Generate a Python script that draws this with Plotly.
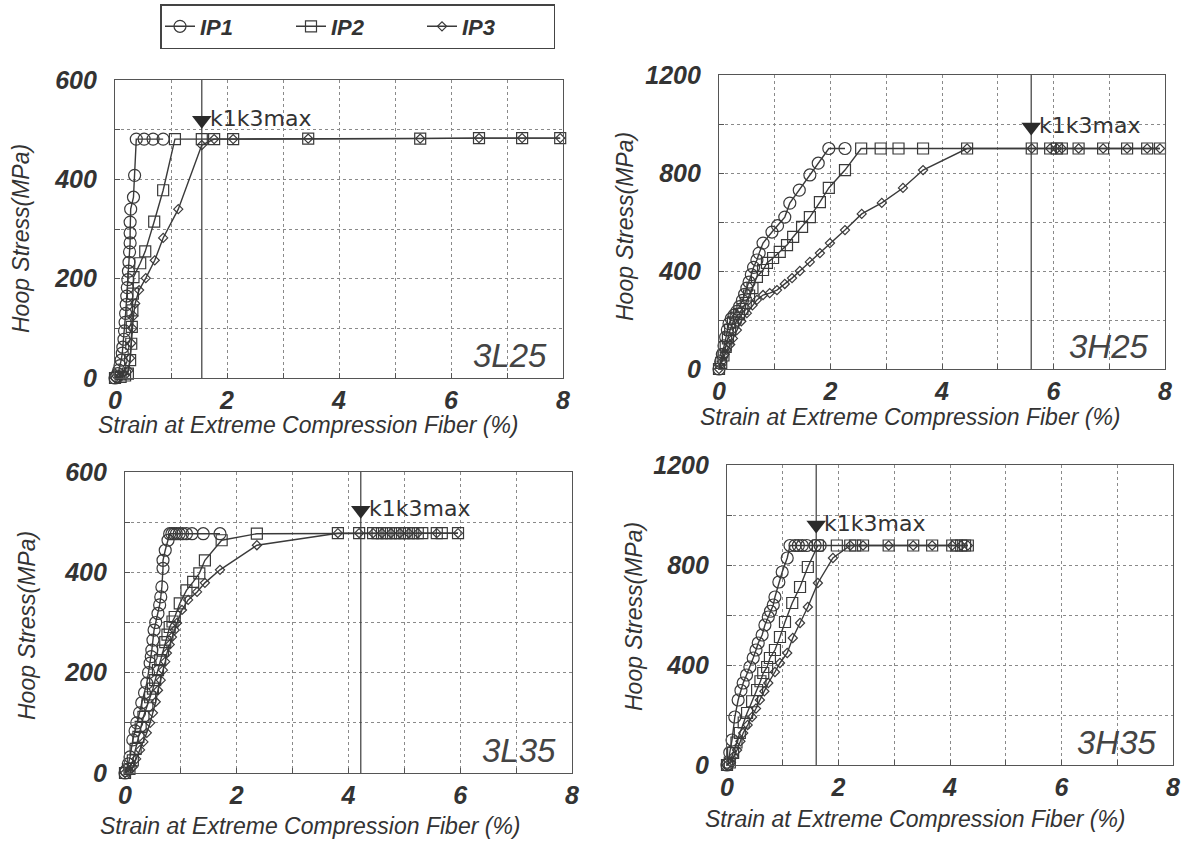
import plotly.graph_objects as go

# ---------------- data (strain %, hoop stress MPa) ----------------
L25_IP1_X = [0.00,0.03,0.05,0.07,0.09,0.11,0.13,0.14,0.16,0.17,0.18,0.19,0.20,0.21,0.22,0.23,0.24,0.25,0.26,0.27,0.27,0.27,0.28,0.33,0.35,0.38,0.52,0.68,0.86]
L25_IP1_Y = [0,4,9,16,25,36,50,62,78,95,112,130,148,165,182,198,215,233,254,272,292,314,340,364,408,481,481,481,481]
L25_IP2_X = [0.00,0.10,0.18,0.23,0.27,0.29,0.30,0.31,0.32,0.33,0.45,0.54,0.70,0.86,1.07,1.55,1.77,2.11,3.45,5.45,6.50,7.27,7.95]
L25_IP2_Y = [0,2,5,9,36,69,103,136,170,203,231,255,315,378,481,481,481,481,482,482,483,483,483]
L25_IP3_X = [0.00,0.10,0.18,0.24,0.27,0.29,0.31,0.33,0.36,0.43,0.55,0.71,0.86,1.13,1.55,1.77,2.11,3.45,5.45,6.50,7.27,7.95]
L25_IP3_Y = [0,2,6,15,40,70,100,125,150,177,201,237,282,340,469,481,481,482,482,483,483,483]

H25_IP1_X = [0.00,0.03,0.06,0.09,0.12,0.15,0.18,0.22,0.27,0.32,0.37,0.42,0.46,0.50,0.54,0.58,0.62,0.68,0.72,0.79,0.95,1.05,1.18,1.27,1.44,1.63,1.78,1.97,2.26]
H25_IP1_Y = [0,30,60,95,130,160,185,205,220,235,255,280,305,330,355,385,415,445,473,514,559,585,620,677,730,792,840,900,900]
H25_IP2_X = [0.00,0.04,0.08,0.12,0.16,0.20,0.25,0.30,0.36,0.42,0.48,0.54,0.60,0.68,0.79,0.86,0.97,1.09,1.22,1.33,1.49,1.63,1.81,1.97,2.26,2.55,2.90,3.22,3.66,4.45,5.61,5.94,6.06,6.15,6.45,6.89,7.32,7.68,7.91]
H25_IP2_Y = [0,25,55,90,125,160,190,210,225,245,270,300,330,376,404,433,453,478,506,539,580,620,681,739,812,900,900,900,900,900,900,900,900,900,900,900,900,900,900]
H25_IP3_X = [0.00,0.05,0.10,0.14,0.20,0.25,0.32,0.40,0.50,0.60,0.68,0.79,0.91,1.04,1.18,1.31,1.45,1.63,1.81,1.99,2.26,2.56,2.92,3.30,3.66,4.45,5.61,5.94,6.06,6.15,6.45,6.89,7.32,7.68,7.91]
H25_IP3_Y = [0,30,60,78,100,125,159,195,228,260,282,302,310,322,347,371,400,437,473,514,567,633,678,739,812,900,900,900,900,900,900,900,900,900,900]

L35_IP1_X = [0.00,0.02,0.06,0.09,0.14,0.18,0.21,0.26,0.30,0.35,0.39,0.42,0.45,0.47,0.48,0.50,0.52,0.55,0.59,0.62,0.64,0.66,0.68,0.68,0.72,0.77,0.80,0.84,0.88,0.92,0.97,1.03,1.10,1.20,1.40,1.70]
L35_IP1_Y = [0,5,18,32,66,84,100,120,140,160,179,200,219,232,245,265,285,300,318,335,351,371,408,424,444,464,477,477,477,477,477,477,477,477,477,477]
L35_IP2_X = [0.00,0.08,0.14,0.19,0.24,0.28,0.33,0.40,0.45,0.50,0.54,0.59,0.63,0.68,0.72,0.76,0.80,0.85,0.89,0.98,1.10,1.22,1.33,1.43,1.73,2.36,3.81,4.19,4.44,4.52,4.60,4.68,4.76,4.84,4.92,5.00,5.08,5.16,5.24,5.32,5.58,5.67,5.96]
L35_IP2_Y = [0,8,25,48,72,92,112,135,151,168,185,205,225,244,261,276,291,302,311,338,364,381,398,424,464,477,478,478,478,478,478,478,478,478,478,478,478,478,478,478,478,478,478]
L35_IP3_X = [0.00,0.08,0.14,0.20,0.27,0.33,0.39,0.45,0.50,0.55,0.59,0.64,0.68,0.72,0.75,0.80,0.84,0.89,0.93,1.02,1.13,1.29,1.43,1.70,2.36,3.81,4.19,4.44,4.60,4.76,4.92,5.08,5.24,5.58,5.96]
L35_IP3_Y = [0,4,12,28,46,62,80,100,120,142,165,185,205,222,239,256,271,285,299,325,345,361,379,405,454,478,478,478,478,478,478,478,478,478,478]

H35_IP1_X = [0.00,0.02,0.05,0.09,0.14,0.20,0.25,0.29,0.35,0.41,0.47,0.52,0.56,0.63,0.68,0.74,0.78,0.83,0.86,0.93,0.99,1.08,1.13,1.22,1.28,1.35,1.43,1.58,1.67]
H35_IP1_Y = [0,5,50,100,192,260,298,328,360,392,428,460,488,520,560,592,615,640,672,732,772,828,878,878,878,878,878,878,878]
H35_IP2_X = [0.00,0.05,0.11,0.17,0.23,0.30,0.36,0.45,0.54,0.60,0.65,0.72,0.77,0.86,0.95,1.04,1.17,1.31,1.45,1.63,1.97,2.21,2.30,2.44,2.90,3.34,3.68,4.04,4.12,4.20,4.27,4.32]
H35_IP2_Y = [0,10,48,90,128,170,208,255,300,335,368,392,428,460,512,572,648,712,792,878,878,878,878,878,878,878,878,878,878,878,878,878]
H35_IP3_X = [0.00,0.07,0.12,0.18,0.24,0.29,0.37,0.45,0.52,0.59,0.67,0.74,0.86,0.95,1.08,1.18,1.31,1.45,1.63,1.90,2.21,2.44,2.90,3.34,3.68,4.04,4.20,4.32]
H35_IP3_Y = [0,10,35,60,95,128,160,192,226,260,295,328,372,408,448,508,568,632,728,828,878,878,878,878,878,878,878,878]

SERIES_NAMES = ["IP1", "IP2", "IP3"]
PANEL_NAMES = ["3L25", "3H25", "3L35", "3H35"]
K1K3MAX = [1.55, 5.60, 4.22, 1.60]
X_TICKS = [0, 2, 4, 6, 8]
Y_TICKS_L = [0, 200, 400, 600]
Y_TICKS_H = [0, 400, 800, 1200]

PANEL_DATA = [
    [(L25_IP1_X, L25_IP1_Y), (L25_IP2_X, L25_IP2_Y), (L25_IP3_X, L25_IP3_Y)],
    [(H25_IP1_X, H25_IP1_Y), (H25_IP2_X, H25_IP2_Y), (H25_IP3_X, H25_IP3_Y)],
    [(L35_IP1_X, L35_IP1_Y), (L35_IP2_X, L35_IP2_Y), (L35_IP3_X, L35_IP3_Y)],
    [(H35_IP1_X, H35_IP1_Y), (H35_IP2_X, H35_IP2_Y), (H35_IP3_X, H35_IP3_Y)],
]

# ---------------- styling / layout ----------------
W, H = 1186, 843
# plot areas in pixels: left, right, top, bottom
BOXES = [(115, 563, 80, 378), (719, 1165, 75, 369), (125, 572, 472, 773), (727, 1173, 465, 765)]
Y_TICKS = [Y_TICKS_L, Y_TICKS_H, Y_TICKS_L, Y_TICKS_H]
TRI_FRAC = [0.865, 0.823, 0.873, 0.80]
YTITLE_POS = [(21, 239), (625, 227), (27, 626), (634, 616)]
XTITLE_POS = [(308, 425), (910, 417), (310, 826), (915, 819)]

INK = "#333333"
LINE = "#3a3a3a"
GRID = "#8a8a8a"
SYMBOLS = ["circle-open", "square-open", "diamond-open"]
SIZES = [12, 11, 7]

fig = go.Figure()
layout = {}
annotations = []

for p in range(4):
    sfx = "" if p == 0 else str(p + 1)
    xa, ya = "x" + sfx, "y" + sfx
    l, r, t, b = BOXES[p]
    ymax = Y_TICKS[p][-1]
    for s, (xs, ys) in enumerate(PANEL_DATA[p]):
        fig.add_trace(go.Scatter(
            x=xs, y=ys, mode="lines+markers", name=SERIES_NAMES[s],
            legendgroup=SERIES_NAMES[s], showlegend=(p == 0),
            line=dict(color=LINE, width=1.4),
            marker=dict(symbol=SYMBOLS[s], size=SIZES[s], color=LINE,
                        line=dict(width=1.2, color=LINE)),
            cliponaxis=False, xaxis=xa, yaxis=ya))
    # k1k3max vertical line + triangle marker
    k = K1K3MAX[p]
    fig.add_trace(go.Scatter(x=[k, k], y=[0, ymax], mode="lines",
                             line=dict(color=LINE, width=1.2), showlegend=False,
                             xaxis=xa, yaxis=ya, hoverinfo="skip"))
    fig.add_trace(go.Scatter(x=[k], y=[ymax * TRI_FRAC[p]], mode="markers",
                             marker=dict(symbol="triangle-down", size=17, color="#2a2a2a"),
                             showlegend=False, xaxis=xa, yaxis=ya, cliponaxis=False))
    annotations.append(dict(x=k, y=ymax * TRI_FRAC[p], xref=xa, yref=ya, text="k1k3max",
                            showarrow=False, xanchor="left", yanchor="middle", xshift=6, yshift=2,
                            font=dict(family="DejaVu Sans", size=22, color=INK)))
    annotations.append(dict(x=1, y=0, xref=xa + " domain", yref=ya + " domain", text=PANEL_NAMES[p],
                            showarrow=False, xanchor="right", yanchor="middle", xshift=-14, yshift=23,
                            font=dict(family="Liberation Sans", size=33, color="#444444", style="italic")))
    annotations.append(dict(x=YTITLE_POS[p][0] / W, y=1 - YTITLE_POS[p][1] / H, xref="paper", yref="paper",
                            text="Hoop Stress(MPa)", textangle=-90, showarrow=False,
                            xanchor="center", yanchor="middle",
                            font=dict(family="Liberation Sans", size=23, color=INK, style="italic")))
    annotations.append(dict(x=XTITLE_POS[p][0] / W, y=1 - XTITLE_POS[p][1] / H, xref="paper", yref="paper",
                            text="Strain at Extreme Compression Fiber (%)", showarrow=False,
                            xanchor="center", yanchor="middle",
                            font=dict(family="Liberation Sans", size=23, color=INK, style="italic")))

    tickfont = dict(family="Liberation Sans", size=25, color=INK, weight="bold", style="italic")
    common = dict(showline=True, mirror=True, linecolor="#555555", linewidth=1.2,
                  showgrid=True, gridcolor=GRID, griddash="dot", gridwidth=1,
                  ticks="inside", ticklen=5, tickcolor="#555555", zeroline=False,
                  tickfont=tickfont)
    layout["xaxis" + sfx] = dict(domain=[l / W, r / W], anchor=ya, range=[0, 8],
                                 tickvals=X_TICKS, ticklabelstandoff=0,
                                 minor=dict(dtick=1, tick0=0, showgrid=True, gridcolor=GRID,
                                            griddash="dot", ticks="inside", ticklen=5,
                                            tickcolor="#555555"),
                                 **common)
    layout["yaxis" + sfx] = dict(domain=[1 - b / H, 1 - t / H], anchor=xa, range=[0, ymax],
                                 tickvals=Y_TICKS[p], ticklabelstandoff=12,
                                 minor=dict(dtick=ymax / 6, tick0=0, showgrid=True, gridcolor=GRID,
                                            griddash="dot", ticks="inside", ticklen=5,
                                            tickcolor="#555555"),
                                 **common)

fig.update_layout(
    width=W, height=H, margin=dict(l=0, r=0, t=0, b=0, autoexpand=False),
    paper_bgcolor="white", plot_bgcolor="white",
    showlegend=True,
    legend=dict(orientation="h", x=160 / W, y=1 - 4 / H, xanchor="left", yanchor="top",
                bordercolor="#444444", borderwidth=1.5, bgcolor="white",
                font=dict(family="Liberation Sans", size=22, color=INK, weight="bold", style="italic"),
                entrywidth=86, itemwidth=30, tracegroupgap=0),
    annotations=annotations,
    **layout,
)

fig.write_html("out.html")
